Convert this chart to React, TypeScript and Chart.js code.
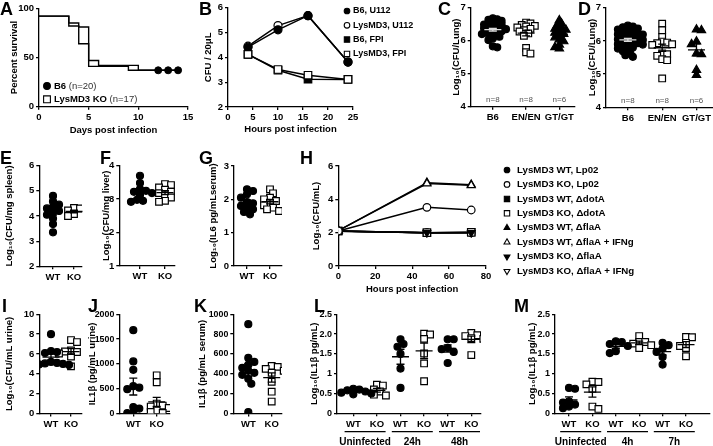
import React, { useEffect, useRef } from 'react';
import { Chart, registerables } from 'chart.js';
Chart.register(...registerables);

const FF = '"Liberation Sans", Arial, Helvetica, sans-serif';
const TICK = 9.5;
const TITLE = 9.5;

// ---------------- DATA ----------------
// A: survival
const survDaysB6 = [0, 3, 4, 5, 9, 14];
const survB6 = [92, 85, 81, 41, 37, 37];
const survDaysKO = [0, 3, 4, 5, 6, 10, 14];
const survKO = [92, 82, 64, 47, 42, 37, 37];
const censorDaysB6 = [12, 13, 14];
const censorB6 = [37, 37, 37];

// B: CFU / 20uL
const hoursB = [4, 10, 16, 24];
const b6U112 = [4.41, 5.11, 5.68, 3.81];
const lysU112 = [4.45, 5.28, 5.68, 3.81];
const b6FPI = [4.12, 3.48, 3.12, 3.11];
const lysFPI = [4.12, 3.51, 3.28, 3.11];

// C, D: lung CFU
const lungLabels = ['B6', 'EN/EN', 'GT/GT'];
const cN = ['n=8', 'n=8', 'n=6'];
const dN = ['n=8', 'n=8', 'n=6'];
const cB6 = [6.68, 6.65, 6.63, 6.6, 6.58, 6.55, 6.53, 6.5, 6.49, 6.46, 6.44, 6.42, 6.4, 6.38, 6.36, 6.35, 6.32, 6.3, 6.29, 6.26, 6.24, 6.22, 6.2, 6.17, 6.15, 6.12, 6.07, 6.02, 5.83, 5.8];
const cEN = [6.55, 6.52, 6.48, 6.45, 6.43, 6.4, 6.36, 6.32, 6.28, 6.22, 6.15, 5.78, 5.65, 5.61];
const cGT = [6.62, 6.52, 6.46, 6.41, 6.36, 6.33, 6.28, 6.24, 6.2, 6.15, 6.1, 6.04, 5.98, 5.88, 5.8, 5.76];
const dB6 = [6.46, 6.43, 6.41, 6.37, 6.34, 6.3, 6.28, 6.26, 6.22, 6.2, 6.19, 6.15, 6.12, 6.1, 6.09, 6.05, 6.03, 6.0, 5.98, 5.96, 5.93, 5.9, 5.89, 5.86, 5.82, 5.8, 5.77, 5.72, 5.69, 5.62, 5.57, 5.52];
const dEN = [6.52, 6.32, 6.12, 5.98, 5.95, 5.93, 5.9, 5.88, 5.62, 5.6, 5.55, 5.45, 5.42, 4.87];
const dGT = [6.34, 6.32, 5.98, 5.9, 5.62, 5.6, 5.12, 4.97];

// E, F, G
const wtko = ['WT', 'KO'];
const eWT = [4.8, 4.58, 4.45, 4.35, 4.3, 4.2, 4.15, 4.05, 3.9, 3.68, 3.35];
const eKO = [4.32, 4.3, 4.22, 4.15, 4.08, 4.0];
const fWT = [3.7, 3.48, 3.3, 3.25, 3.22, 3.18, 3.12, 2.98, 2.95, 2.92];
const fKO = [3.45, 3.42, 3.35, 3.28, 3.22, 3.18, 3.12, 3.05, 2.95, 2.92];
const gWT = [2.3, 2.25, 2.15, 2.05, 1.92, 1.88, 1.8, 1.75, 1.7, 1.62, 1.55];
const gKO = [2.3, 2.18, 2.05, 2.0, 1.95, 1.88, 1.82, 1.75, 1.7, 1.65];

// H
const hoursH = [0, 48, 72];
const hWTLp02 = [2.1, 2.0, 2.0];
const hKOLp02 = [2.1, 3.52, 3.36];
const hWTdot = [2.1, 2.0, 2.02];
const hKOdot = [2.1, 2.0, 2.02];
const hWTfla = [2.12, 5.0, 4.88];
const hWTflaIFN = [2.12, 4.95, 4.84];
const hKOfla = [2.08, 2.0, 2.0];
const hKOflaIFN = [2.08, 2.0, 2.0];

// I, J, K
const iWT = [8.0, 6.3, 6.2, 6.1, 5.2, 5.1, 5.05, 5.0, 4.95, 4.9];
const iKO = [7.4, 7.2, 6.35, 6.25, 6.2, 6.05, 5.75, 4.75];
const jWT = [1680, 1050, 880, 550, 520, 490, 130, 100, 20, 10];
const jKO = [770, 630, 200, 160, 140, 110, 60, 30, 10];
const kWT = [900, 560, 520, 490, 460, 430, 410, 390, 350, 300, 15];
const kKO = [480, 470, 450, 430, 410, 320, 220, 120];

// L, M
const lmLabels = ['WT', 'KO', 'WT', 'KO', 'WT', 'KO'];
const lGroups = ['Uninfected', '24h', '48h'];
const mGroups = ['Uninfected', '4h', '7h'];
const lUnWT = [0.62, 0.6, 0.58, 0.55, 0.52, 0.5, 0.48];
const lUnKO = [0.72, 0.7, 0.6, 0.55, 0.47, 0.45];
const l24WT = [1.87, 1.75, 1.68, 1.5, 1.13, 0.64];
const l24KO = [2.01, 1.99, 1.88, 1.51, 1.26, 0.81];
const l48WT = [1.87, 1.87, 1.65, 1.62, 1.55, 1.27];
const l48KO = [2.03, 1.97, 1.95, 1.9, 1.88, 1.47];
const mUnWT = [0.64, 0.62, 0.3, 0.27, 0.22, 0.17, 0.13];
const mUnKO = [0.8, 0.79, 0.73, 0.62, 0.17, 0.11];
const m4WT = [1.82, 1.8, 1.75, 1.7, 1.57, 1.52];
const m4KO = [1.95, 1.8, 1.8, 1.76, 1.72, 1.65];
const m7WT = [1.78, 1.72, 1.63, 1.55, 1.42, 1.23];
const m7KO = [1.93, 1.92, 1.78, 1.7, 1.65, 1.44];

// ---------------- LAYOUT ----------------
type Geo = { left: number; top: number; w: number; h: number; l: number; r: number; t: number; b: number; g0?: number; gs?: number };
const GEO: Record<string, Geo> = {
  A: { left: 0, top: 0, w: 196, h: 142, l: 39, r: 188, t: 8.3, b: 106.7 },
  B: { left: 195, top: 0, w: 241, h: 142, l: 228, r: 353, t: 7, b: 107 },
  C: { left: 436, top: 0, w: 140, h: 142, l: 470.7, r: 575, t: 6.7, b: 106.7, g0: 493, gs: 33.5 },
  D: { left: 576, top: 0, w: 137, h: 142, l: 606, r: 713, t: 7.4, b: 107.3, g0: 628, gs: 34.5 },
  E: { left: 0, top: 145, w: 95, h: 150, l: 39.3, r: 82, t: 165.7, b: 266.3, g0: 53, gs: 21 },
  F: { left: 95, top: 145, w: 100, h: 150, l: 119.3, r: 175, t: 165.7, b: 266, g0: 140, gs: 25 },
  G: { left: 195, top: 145, w: 100, h: 150, l: 234, r: 282, t: 166, b: 266, g0: 247, gs: 23 },
  H: { left: 295, top: 145, w: 418, h: 150, l: 338.3, r: 486, t: 166, b: 266 },
  I: { left: 0, top: 295, w: 84, h: 151, l: 39.3, r: 82, t: 314.3, b: 413.5, g0: 51, gs: 20 },
  J: { left: 84, top: 295, w: 106, h: 151, l: 119.3, r: 170, t: 314.3, b: 413.5, g0: 133.3, gs: 23.4 },
  K: { left: 190, top: 295, w: 110, h: 151, l: 233.3, r: 282, t: 314.3, b: 413.5, g0: 248.3, gs: 23.4 },
  L: { left: 300, top: 295, w: 200, h: 151, l: 337, r: 481, t: 314.3, b: 413.3, g0: 353.3, gs: 23.6 },
  M: { left: 500, top: 295, w: 213, h: 151, l: 555, r: 710, t: 314.3, b: 413.3, g0: 569, gs: 23.4 },
};

// ---------------- HELPERS ----------------
const font = (size: number, bold = true) => ({ family: FF, size, weight: (bold ? 'bold' : 'normal') as any, lineHeight: 1.2 });

function marker(ctx: CanvasRenderingContext2D, style: string, x: number, y: number, r: number, fill: string, rot = 0) {
  ctx.beginPath();
  if (style === 'circle') ctx.arc(x, y, r, 0, Math.PI * 2);
  else if (style === 'rect') { const s = r * Math.SQRT1_2; ctx.rect(x - s, y - s, 2 * s, 2 * s); }
  else {
    const sgn = rot ? -1 : 1;
    ctx.moveTo(x, y - sgn * r);
    ctx.lineTo(x + r * 0.866, y + sgn * r * 0.5);
    ctx.lineTo(x - r * 0.866, y + sgn * r * 0.5);
    ctx.closePath();
  }
  ctx.fillStyle = fill;
  ctx.fill();
  ctx.lineWidth = 1.1;
  ctx.strokeStyle = '#000';
  ctx.stroke();
}

const extrasPlugin = {
  id: 'extras',
  afterDraw(chart: any, _a: any, o: any) {
    const { ctx, chartArea, scales } = chart;
    const xs = scales.x, ys = scales.y;
    const ox = o.ox, oy = o.oy;
    ctx.save();
    // mean +/- SEM
    chart.data.datasets.forEach((ds: any) => {
      if (ds.grp === undefined || ds.noErr) return;
      const v: number[] = ds.vals;
      const n = v.length;
      const m = v.reduce((a, b) => a + b, 0) / n;
      const sd = Math.sqrt(v.reduce((a, b) => a + (b - m) * (b - m), 0) / (n - 1));
      const se = sd / Math.sqrt(n);
      const cx = xs.getPixelForValue(ds.grp);
      const my = ys.getPixelForValue(m), ty = ys.getPixelForValue(m + se), by = ys.getPixelForValue(m - se);
      const mw = ds.meanW ?? 8.5;
      ctx.strokeStyle = ds.errColor || '#000';
      ctx.lineWidth = 1.3;
      ctx.beginPath();
      ctx.moveTo(cx - mw, my); ctx.lineTo(cx + mw, my);
      ctx.moveTo(cx, ty); ctx.lineTo(cx, by);
      ctx.moveTo(cx - 4, ty); ctx.lineTo(cx + 4, ty);
      ctx.moveTo(cx - 4, by); ctx.lineTo(cx + 4, by);
      ctx.stroke();
    });
    // n labels
    if (o.nLabels) {
      ctx.font = `normal 8px ${FF}`;
      ctx.fillStyle = '#555';
      ctx.textAlign = 'center';
      ctx.textBaseline = 'middle';
      o.nLabels.forEach((t: string, i: number) => ctx.fillText(t, xs.getPixelForValue(i), chartArea.bottom - 6.5));
    }
    // grouped labels with underline
    if (o.groups) {
      ctx.strokeStyle = '#000';
      ctx.lineWidth = 1.3;
      ctx.fillStyle = '#000';
      ctx.font = `bold 10px ${FF}`;
      ctx.textAlign = 'center';
      ctx.textBaseline = 'middle';
      o.groups.forEach((t: string, i: number) => {
        const cx = (xs.getPixelForValue(2 * i) + xs.getPixelForValue(2 * i + 1)) / 2;
        ctx.beginPath();
        ctx.moveTo(cx - 20.5, chartArea.bottom + 18.4);
        ctx.lineTo(cx + 20.5, chartArea.bottom + 18.4);
        ctx.stroke();
        ctx.fillText(t, cx, chartArea.bottom + 28.6);
      });
    }
    // legend
    if (o.legend) {
      const L = o.legend;
      ctx.textBaseline = 'middle';
      ctx.textAlign = 'left';
      L.items.forEach((it: any, i: number) => {
        const y = L.y - oy + i * L.dy;
        marker(ctx, it.style, L.mx - ox, y, it.r ?? L.r, it.fill, it.rot ?? 0);
        let x = L.tx - ox;
        it.parts.forEach((p: any) => {
          ctx.font = `${p.bold === false ? 'normal' : 'bold'} ${L.size}px ${FF}`;
          ctx.fillStyle = p.bold === false ? '#333' : '#000';
          ctx.fillText(p.t, x, y);
          x += ctx.measureText(p.t).width;
        });
      });
    }
    // panel letter
    if (o.letter) {
      ctx.font = `bold 18px ${FF}`;
      ctx.fillStyle = '#000';
      ctx.textAlign = 'left';
      ctx.textBaseline = 'alphabetic';
      ctx.fillText(o.letter.t, o.letter.x - ox, o.letter.y - oy);
    }
    ctx.restore();
  },
};

function swarm(vals: number[], pxY: number, dmin: number, step: number) {
  const idx = vals.map((_, i) => i).sort((a, b) => vals[b] - vals[a]);
  const placed: [number, number][] = [];
  const off = vals.map(() => 0);
  let flip = 1;
  for (const i of idx) {
    const y = vals[i] * pxY;
    let chosen = 0;
    for (let k = 0; k < 80; k++) {
      const mag = Math.ceil(k / 2) * step;
      const cand = k === 0 ? 0 : (k % 2 ? flip : -flip) * mag;
      if (placed.every(([px, py]) => Math.hypot(px - cand, py - y) >= dmin)) { chosen = cand; break; }
    }
    if (chosen !== 0) flip = -Math.sign(chosen);
    off[i] = chosen;
    placed.push([chosen, y]);
  }
  return off;
}

type YSpec = { min: number; max: number; step: number; title: string; titleX: number; fmt?: (v: number) => string; titleSize?: number; tickSize?: number };
type XSpec = { min: number; max: number; step?: number; labels?: string[]; title?: string; titleY?: number };

function axisBase() {
  return {
    border: { display: true, color: '#000', width: 1.3 },
    grid: { display: true, drawOnChartArea: false, drawTicks: true, tickLength: 3, color: '#000', tickColor: '#000', lineWidth: 1.3 },
  };
}

function build(geo: Geo, datasets: any[], x: XSpec, y: YSpec, extras: any) {
  const xTicks: any = { color: '#000', font: font(TICK), padding: 2, maxRotation: 0, minRotation: 0, autoSkip: false, includeBounds: false };
  if (x.step) xTicks.stepSize = x.step;
  xTicks.callback = x.labels ? (v: number) => x.labels![Math.round(v)] ?? '' : (v: number) => String(v);
  const xScale: any = {
    type: 'linear', min: x.min, max: x.max, ...axisBase(), ticks: xTicks,
    afterFit: (s: any) => { s.height = geo.top + geo.h - geo.b; },
  };
  if (x.labels) xScale.afterBuildTicks = (s: any) => { s.ticks = x.labels!.map((_, i) => ({ value: i })); };
  if (x.title) {
    xScale.title = { display: true, text: x.title, color: '#000', font: font(TITLE), padding: { top: 0, bottom: geo.top + geo.h - (x.titleY as number) - TITLE * 0.6 } };
  }
  const ts = y.titleSize ?? TITLE;
  const yScale: any = {
    type: 'linear', min: y.min, max: y.max, ...axisBase(),
    ticks: { color: '#000', font: font(y.tickSize ?? TICK), padding: 2, stepSize: y.step, callback: y.fmt ?? ((v: number) => String(v)) },
    title: { display: true, text: y.title, color: '#000', font: font(ts), padding: { top: y.titleX - geo.left - ts * 0.6, bottom: 0 } },
    afterFit: (s: any) => { s.width = geo.l - geo.left; },
  };
  return {
    type: 'scatter',
    data: { datasets },
    options: {
      responsive: false, animation: false, events: [],
      layout: { autoPadding: false, padding: { left: 0, top: geo.t - geo.top, right: geo.left + geo.w - geo.r, bottom: 0 } },
      plugins: { legend: { display: false }, tooltip: { enabled: false }, extras: { ...extras, ox: geo.left, oy: geo.top } },
      scales: { x: xScale, y: yScale },
    },
    plugins: [extrasPlugin],
  };
}

// dot plot panel
type Grp = { vals: number[]; style: string; filled: boolean; errColor?: string; dmin?: number };
function dotPanel(geo: Geo, groups: Grp[], labels: string[], y: YSpec, extras: any, dmin = 5, step = 3) {
  const gs = geo.gs as number, g0 = geo.g0 as number;
  const xmin = (geo.l - g0) / gs, xmax = (geo.r - g0) / gs;
  const pxY = (geo.b - geo.t) / (y.max - y.min);
  const datasets = groups.map((g, gi) => {
    const off = swarm(g.vals, pxY, g.dmin ?? dmin, step);
    const r = g.style === 'circle' ? 3.5 : g.style === 'rect' ? 4.7 : 4.8;
    return {
      data: g.vals.map((v, i) => ({ x: gi + off[i] / gs, y: v })),
      grp: gi, vals: g.vals, errColor: g.errColor,
      pointStyle: g.style, pointRadius: r,
      pointBackgroundColor: g.filled ? '#000' : '#fff', pointBorderColor: '#000', pointBorderWidth: 1.2,
      showLine: false,
    };
  });
  return build(geo, datasets, { min: xmin, max: xmax, labels }, y, extras);
}

function lineDs(xs: number[], ys: number[], style: string, filled: boolean, r: number, order: number, rot = 0) {
  return {
    data: xs.map((x, i) => ({ x, y: ys[i] })),
    showLine: true, borderColor: '#000', borderWidth: 1.5,
    pointStyle: style, pointRadius: r, pointRotation: rot,
    pointBackgroundColor: filled ? '#000' : '#fff', pointBorderColor: '#000', pointBorderWidth: 1.2,
    order,
  };
}

const fmtL = (v: number) => (v === 0 || v === 1 ? String(v) : v.toFixed(1));
const LOG = 'Log\u2081\u2080';

// ---------------- PANELS ----------------
const PANELS: { key: string; make: () => any }[] = [
  {
    key: 'A', make: () => build(GEO.A, [
      { data: censorDaysB6.map((d, i) => ({ x: d, y: censorB6[i] })), showLine: false, pointStyle: 'circle', pointRadius: 3.5, pointBackgroundColor: '#000', pointBorderColor: '#000' },
      { data: survDaysB6.map((d, i) => ({ x: d, y: survB6[i] })), showLine: true, stepped: 'before', borderColor: '#000', borderWidth: 1.4, pointRadius: 0 },
      { data: survDaysKO.map((d, i) => ({ x: d, y: survKO[i] })), showLine: true, stepped: 'before', borderColor: '#000', borderWidth: 1.4, pointRadius: 0 },
    ], { min: 0, max: 15, step: 5, title: 'Days post infection', titleY: 130 },
      { min: 0, max: 100, step: 50, title: 'Percent survival', titleX: 14 },
      {
        letter: { t: 'A', x: 0, y: 15 },
        legend: {
          mx: 47, tx: 54, y: 86, dy: 13.3, r: 3.4, size: 9.5, items: [
            { style: 'circle', fill: '#000', parts: [{ t: 'B6' }, { t: ' (n=20)', bold: false }] },
            { style: 'rect', fill: '#fff', r: 4.8, parts: [{ t: 'LysMD3 KO' }, { t: ' (n=17)', bold: false }] },
          ],
        },
      }),
  },
  {
    key: 'B', make: () => build(GEO.B, [
      lineDs(hoursB, b6U112, 'circle', true, 4, 1),
      lineDs(hoursB, lysU112, 'circle', false, 4, 2),
      lineDs(hoursB, b6FPI, 'rect', true, 5.3, 3),
      lineDs(hoursB, lysFPI, 'rect', false, 5.3, 0),
    ], { min: 0, max: 25, step: 5, title: 'Hours post infection', titleY: 129 },
      { min: 2, max: 6, step: 1, title: 'CFU / 20\u03bcL', titleX: 208 },
      {
        letter: { t: 'B', x: 199, y: 15 },
        legend: {
          mx: 347, tx: 353, y: 11, dy: 14.3, r: 2.8, size: 9, items: [
            { style: 'circle', fill: '#000', parts: [{ t: 'B6, U112' }] },
            { style: 'circle', fill: '#fff', parts: [{ t: 'LysMD3, U112' }] },
            { style: 'rect', fill: '#000', r: 3.8, parts: [{ t: 'B6, FPI' }] },
            { style: 'rect', fill: '#fff', r: 3.8, parts: [{ t: 'LysMD3, FPI' }] },
          ],
        },
      }),
  },
  {
    key: 'C', make: () => dotPanel(GEO.C, [
      { vals: cB6, style: 'circle', filled: true, errColor: '#ddd', dmin: 3.2 },
      { vals: cEN, style: 'rect', filled: false },
      { vals: cGT, style: 'triangle', filled: true, dmin: 3.6 },
    ], lungLabels, { min: 4, max: 7, step: 1, title: LOG + '(CFU/Lung)', titleX: 456 },
      { letter: { t: 'C', x: 438, y: 15 }, nLabels: cN }, 4, 2.2),
  },
  {
    key: 'D', make: () => dotPanel(GEO.D, [
      { vals: dB6, style: 'circle', filled: true, errColor: '#ddd' },
      { vals: dEN, style: 'rect', filled: false },
      { vals: dGT, style: 'triangle', filled: true },
    ], lungLabels, { min: 4, max: 7, step: 1, title: LOG + '(CFU/Lung)', titleX: 592.7 },
      { letter: { t: 'D', x: 578, y: 15 }, nLabels: dN }, 4, 2.5),
  },
  {
    key: 'E', make: () => dotPanel(GEO.E, [
      { vals: eWT, style: 'circle', filled: true },
      { vals: eKO, style: 'rect', filled: false },
    ], wtko, { min: 2, max: 6, step: 1, title: LOG + '(CFU/mg spleen)', titleX: 9.3 },
      { letter: { t: 'E', x: 0, y: 163.5 } }),
  },
  {
    key: 'F', make: () => dotPanel(GEO.F, [
      { vals: fWT, style: 'circle', filled: true },
      { vals: fKO, style: 'rect', filled: false },
    ], wtko, { min: 1, max: 4, step: 1, title: LOG + '(CFU/mg liver)', titleX: 106.5 },
      { letter: { t: 'F', x: 100, y: 163.5 } }),
  },
  {
    key: 'G', make: () => dotPanel(GEO.G, [
      { vals: gWT, style: 'circle', filled: true },
      { vals: gKO, style: 'rect', filled: false },
    ], wtko, { min: 0, max: 3, step: 1, title: LOG + '(IL6 pg/mLserum)', titleX: 213 },
      { letter: { t: 'G', x: 199, y: 163.5 } }),
  },
  {
    key: 'H', make: () => build(GEO.H, [
      lineDs(hoursH, hWTLp02, 'circle', true, 3.8, 7),
      lineDs(hoursH, hKOLp02, 'circle', false, 3.8, 0),
      lineDs(hoursH, hWTdot, 'rect', true, 5.2, 5),
      lineDs(hoursH, hKOdot, 'rect', false, 5.2, 4),
      lineDs(hoursH, hWTfla, 'triangle', true, 4.6, 2),
      lineDs(hoursH, hWTflaIFN, 'triangle', false, 4.6, 1),
      lineDs(hoursH, hKOfla, 'triangle', true, 4.2, 3, 180),
      lineDs(hoursH, hKOflaIFN, 'triangle', false, 4.2, 6, 180),
    ], { min: 0, max: 80, step: 20, title: 'Hours post infection', titleY: 289 },
      { min: 0, max: 6, step: 2, title: LOG + '(CFU/mL)', titleX: 316 },
      {
        letter: { t: 'H', x: 300, y: 163.5 },
        legend: {
          mx: 507, tx: 517, y: 170, dy: 14.45, r: 2.8, size: 9.7, items: [
            { style: 'circle', fill: '#000', parts: [{ t: 'LysMD3 WT, Lp02' }] },
            { style: 'circle', fill: '#fff', parts: [{ t: 'LysMD3 KO, Lp02' }] },
            { style: 'rect', fill: '#000', r: 3.8, parts: [{ t: 'LysMD3 WT, \u0394dotA' }] },
            { style: 'rect', fill: '#fff', r: 3.8, parts: [{ t: 'LysMD3 KO, \u0394dotA' }] },
            { style: 'triangle', fill: '#000', r: 3.4, parts: [{ t: 'LysMD3 WT, \u0394flaA' }] },
            { style: 'triangle', fill: '#fff', r: 3.4, parts: [{ t: 'LysMD3 WT, \u0394flaA + IFNg' }] },
            { style: 'triangle', fill: '#000', r: 3.4, rot: 180, parts: [{ t: 'LysMD3 KO, \u0394flaA' }] },
            { style: 'triangle', fill: '#fff', r: 3.4, rot: 180, parts: [{ t: 'LysMD3 KO, \u0394flaA + IFNg' }] },
          ],
        },
      }),
  },
  {
    key: 'I', make: () => dotPanel(GEO.I, [
      { vals: iWT, style: 'circle', filled: true },
      { vals: iKO, style: 'rect', filled: false },
    ], wtko, { min: 0, max: 10, step: 2, title: LOG + '(CFU/mL urine)', titleX: 9.3 },
      { letter: { t: 'I', x: 2, y: 312 } }),
  },
  {
    key: 'J', make: () => dotPanel(GEO.J, [
      { vals: jWT, style: 'circle', filled: true },
      { vals: jKO, style: 'rect', filled: false },
    ], wtko, { min: 0, max: 2000, step: 500, title: 'IL1\u03b2 (pg/mL urine)', titleX: 92.5, tickSize: 8.8 },
      { letter: { t: 'J', x: 88, y: 312 } }),
  },
  {
    key: 'K', make: () => dotPanel(GEO.K, [
      { vals: kWT, style: 'circle', filled: true },
      { vals: kKO, style: 'rect', filled: false },
    ], wtko, { min: 0, max: 1000, step: 200, title: 'IL1\u03b2 (pg/mL serum)', titleX: 202.5, tickSize: 8.8 },
      { letter: { t: 'K', x: 194, y: 312 } }),
  },
  {
    key: 'L', make: () => dotPanel(GEO.L, [
      { vals: lUnWT, style: 'circle', filled: true },
      { vals: lUnKO, style: 'rect', filled: false },
      { vals: l24WT, style: 'circle', filled: true },
      { vals: l24KO, style: 'rect', filled: false },
      { vals: l48WT, style: 'circle', filled: true },
      { vals: l48KO, style: 'rect', filled: false },
    ], lmLabels, { min: 0, max: 2.5, step: 0.5, title: LOG + '(IL1\u03b2 pg/mL)', titleX: 314.5, fmt: fmtL, tickSize: 9 },
      { letter: { t: 'L', x: 314, y: 312 }, groups: lGroups }),
  },
  {
    key: 'M', make: () => dotPanel(GEO.M, [
      { vals: mUnWT, style: 'circle', filled: true },
      { vals: mUnKO, style: 'rect', filled: false },
      { vals: m4WT, style: 'circle', filled: true },
      { vals: m4KO, style: 'rect', filled: false },
      { vals: m7WT, style: 'circle', filled: true },
      { vals: m7KO, style: 'rect', filled: false },
    ], lmLabels, { min: 0, max: 2.5, step: 0.5, title: LOG + '(IL1\u03b2 pg/mL)', titleX: 532.5, fmt: fmtL, tickSize: 9 },
      { letter: { t: 'M', x: 514, y: 312 }, groups: mGroups }),
  },
];

function Panel({ k, make }: { k: string; make: () => any }) {
  const ref = useRef<HTMLCanvasElement>(null);
  const g = GEO[k];
  useEffect(() => {
    const chart = new Chart(ref.current as HTMLCanvasElement, make());
    return () => chart.destroy();
  }, []);
  return (
    <canvas ref={ref} width={g.w} height={g.h}
      style={{ position: 'absolute', left: g.left, top: g.top, width: g.w, height: g.h }} />
  );
}

export default function App() {
  return (
    <div style={{ position: 'absolute', left: 0, top: 0, width: 713, height: 446, background: '#fff', overflow: 'hidden' }}>
      {PANELS.map((p) => <Panel key={p.key} k={p.key} make={p.make} />)}
    </div>
  );
}
